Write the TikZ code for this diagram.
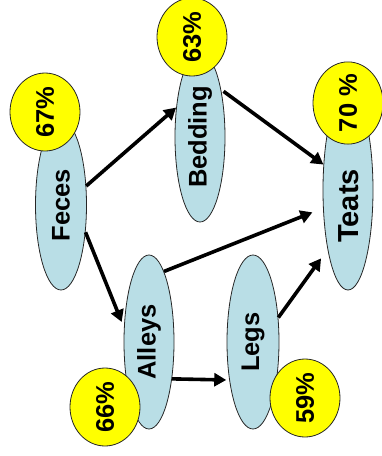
\documentclass[tikz,border=0pt]{standalone}
\usepackage{fontspec}
\setmainfont{Liberation Sans}
\usetikzlibrary{shapes.geometric,arrows.meta}
\definecolor{padblue}{RGB}{185,222,230}
\definecolor{padyellow}{RGB}{255,255,0}
\tikzset{
  site/.style={ellipse, draw=black!85, line width=0.8pt, fill=padblue, inner sep=0pt,
    font=\fontsize{25.5}{30}\selectfont\bfseries},
  pct/.style={ellipse, draw=black!85, line width=0.8pt, fill=padyellow, inner sep=0pt,
    minimum width=70pt, minimum height=78pt, font=\fontsize{25.5}{30}\selectfont\bfseries},
  sitetext/.style={inner sep=0pt, font=\fontsize{29}{34}\selectfont\bfseries},
  flow/.style={line width=3.6pt, -{Triangle[length=12pt,width=13pt]}},
}
\begin{document}
\begin{tikzpicture}[x=1pt,y=-1pt]
\useasboundingbox (0,0) rectangle (381,456);
% site ellipses
\node[site, minimum width=51pt, minimum height=170pt] (feces)   at (61,205)  {\rotatebox{90}{Feces}};
\node[site, minimum width=50pt, minimum height=170pt] (bedding) at (200,137) {\rotatebox{90}{Bedding}};
\node[site, minimum width=50pt, minimum height=200pt] (teats)   at (348,190) {};
\node[sitetext] (teatslabel) at (349,206) {\rotatebox{90}{Teats}};
\node[site, minimum width=50pt, minimum height=174pt] (alleys)  at (149,342) {\rotatebox{90}{Alleys}};
\node[site, minimum width=52pt, minimum height=174pt] (legs)    at (253,342) {\rotatebox{90}{Legs}};
% arrows
\draw[flow] (feces.37) -- (bedding.129);
\draw[flow, shorten <=3pt] (bedding.66) -- (teats.134);
\draw[flow, shorten >=11.4pt] (alleys.78) -- (teats.216);
\draw[flow, shorten >=6pt] (feces.-48) -- (alleys.150);
\draw[flow, shorten >=3pt] (alleys.-58) -- (legs.238);
\draw[flow, shorten >=11pt] (legs.44) -- (teats.251);
% percentages
\node[pct] (p67) at (45,112)  {\rotatebox{90}{67\%}};
\node[pct] (p63) at (192,37)  {\rotatebox{90}{63\%}};
\node[pct] (p70) at (348,103) {\rotatebox{90}{70 \%}};
\node[pct] (p66) at (105,407) {\rotatebox{90}{66\%}};
\node[pct] (p59) at (305,398) {\rotatebox{90}{59\%}};
\end{tikzpicture}
\end{document}
